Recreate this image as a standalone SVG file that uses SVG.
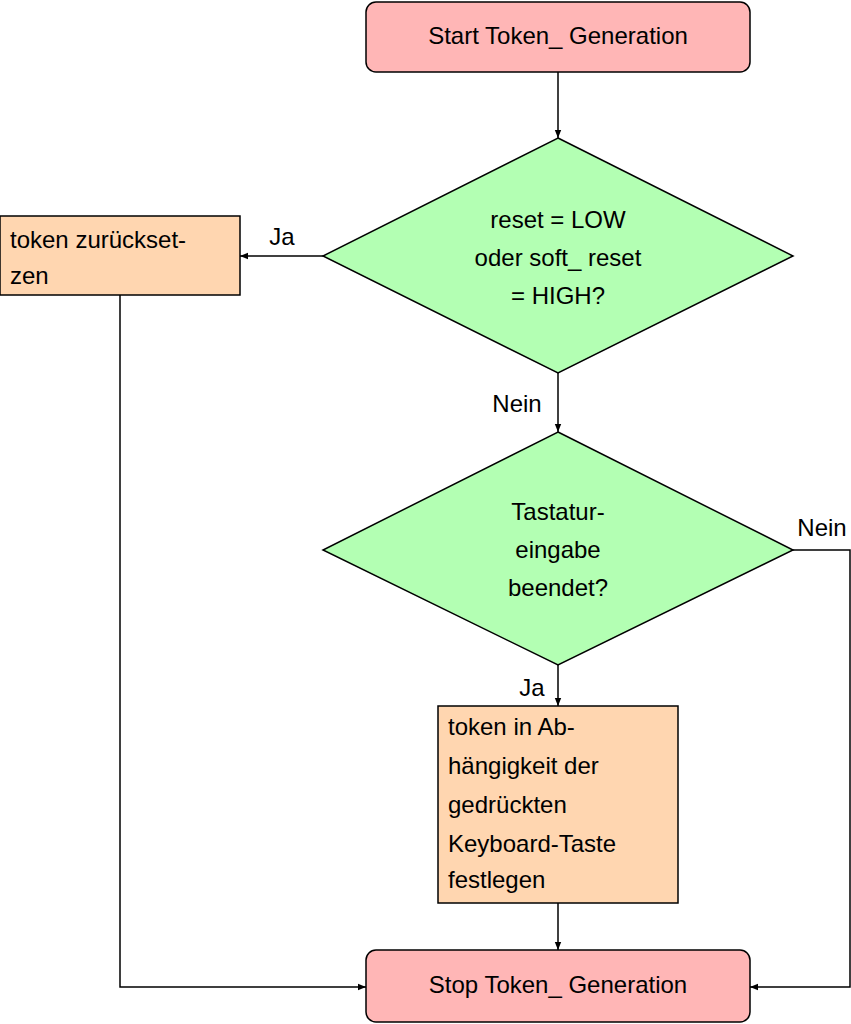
<svg xmlns="http://www.w3.org/2000/svg" width="851" height="1024" viewBox="0 0 851 1024">
<defs>
<style>
text{font-family:"Liberation Sans",Arial,sans-serif;font-size:24px;fill:#000}
.c{text-anchor:middle}
.term{fill:#ffb6b6;stroke:#000;stroke-width:1.5}
.dec{fill:#b3ffb3;stroke:#000;stroke-width:1.5}
.proc{fill:#ffd6b0;stroke:#000;stroke-width:1.5}
.ln{fill:none;stroke:#000;stroke-width:1.5;marker-end:url(#a)}
</style>
<marker id="a" viewBox="0 0 10 10" refX="10" refY="5" markerWidth="8" markerHeight="8" orient="auto" markerUnits="userSpaceOnUse"><path d="M0,1 L10,5 L0,9 Z" fill="#000"/></marker>
</defs>
<rect width="851" height="1024" fill="#fff"/>
<g id="connectors">
<path class="ln" d="M558,72 V138"/>
<path class="ln" d="M323,256 H240"/>
<path class="ln" d="M120,295 V987 H366"/>
<path class="ln" d="M558,373 V432"/>
<path class="ln" d="M793,550 H850 V987 H750"/>
<path class="ln" d="M558,665 V706"/>
<path class="ln" d="M558,903 V950"/>
<text x="282" y="245" class="c">Ja</text>
<text x="517" y="412" class="c">Nein</text>
<text x="822" y="536" class="c">Nein</text>
<text x="532" y="696" class="c">Ja</text>
</g>
<g id="start"><rect class="term" x="366" y="2" width="384" height="70" rx="10"/><text x="558" y="44" class="c">Start Token_ Generation</text></g>
<g id="dec1"><polygon class="dec" points="558,138 793,256 558,373 323,256"/>
<text x="558" y="228" class="c">reset = LOW</text><text x="558" y="266" class="c">oder soft_ reset</text><text x="558" y="304" class="c">= HIGH?</text></g>
<g id="reset"><rect class="proc" x="0" y="216" width="240" height="79"/><text x="10" y="248">token zurückset-</text><text x="10" y="284">zen</text></g>
<g id="dec2"><polygon class="dec" points="558,432 793,550 558,665 323,550"/>
<text x="558" y="520" class="c">Tastatur-</text><text x="558" y="558" class="c">eingabe</text><text x="558" y="596" class="c">beendet?</text></g>
<g id="set"><rect class="proc" x="438" y="706" width="240" height="197"/>
<text x="448" y="735">token in Ab-</text><text x="448" y="774">hängigkeit der</text><text x="448" y="813">gedrückten</text><text x="448" y="852">Keyboard-Taste</text><text x="448" y="888">festlegen</text></g>
<g id="stop"><rect class="term" x="366" y="950" width="384" height="72" rx="10"/><text x="558" y="993" class="c">Stop Token_ Generation</text></g>
</svg>
